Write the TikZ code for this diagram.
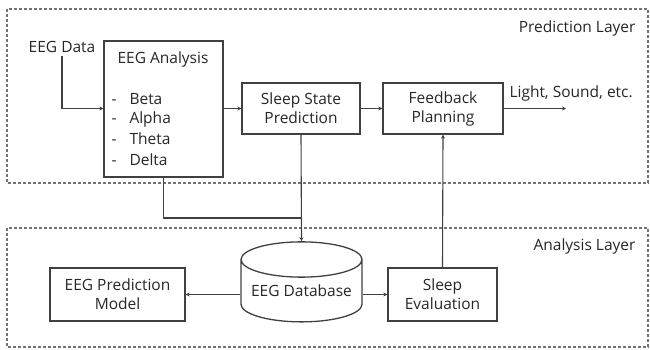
\documentclass[tikz,border=0pt]{standalone}
\usepackage{fontspec}
\setmainfont{Open Sans}
\usetikzlibrary{arrows.meta,shapes.geometric}
\begin{document}
\begin{tikzpicture}[x=1pt,y=-1pt,
  every node/.style={font=\fontsize{15.5}{19}\selectfont, text=black!85},
  layer/.style={draw=black!55, line width=1.4pt, dash pattern=on 3pt off 2pt},
  blk/.style={draw=black!75, line width=1.3pt, rectangle, align=center, inner sep=0pt},
  conn/.style={draw=black!75, line width=1.1pt, -{Stealth[length=4pt,width=4pt]}},
  plain/.style={draw=black!75, line width=1.1pt}]
\useasboundingbox (0,0) rectangle (650,349);
% layers
\draw[layer] (7,9) rectangle (648,183);
\draw[layer] (7,228) rectangle (648,347);
\node[anchor=east] (pl) at (639,28) {Prediction Layer};
\node[anchor=east] (al) at (639,246) {Analysis Layer};
% boxes
\node[blk, minimum width=119pt, minimum height=136pt] (ana) at (163.5,109) {};
\node (anat) at (163,59) {EEG Analysis};
\node[anchor=west] (b1) at (108,99) {-\hspace{13pt}Beta};
\node[anchor=west] (b2) at (108,119) {-\hspace{13pt}Alpha};
\node[anchor=west] (b3) at (108,139) {-\hspace{13pt}Theta};
\node[anchor=west] (b4) at (108,160) {-\hspace{13pt}Delta};
\node[blk, minimum width=118pt, minimum height=51pt] (ssp) at (301,108.5) {Sleep State\\Prediction};
\node[blk, minimum width=120pt, minimum height=51pt] (fbp) at (443,108.5) {Feedback\\Planning};
\node[blk, minimum width=135pt, minimum height=53pt] (epm) at (117.5,294.5) {EEG Prediction\\Model};
\node[blk, minimum width=109pt, minimum height=53pt] (sev) at (442.5,294.5) {Sleep\\Evaluation};
\node[draw=black!75, line width=1.3pt, cylinder, shape border rotate=90, aspect=0.35,
  minimum width=121pt, minimum height=80pt, inner sep=0pt] (db) at (301.5,291) {EEG Database};
\node[anchor=south] (eegd) at (62,56) {EEG Data};
\node[anchor=west] (lse) at (506,93) {Light, Sound, etc.};
\coordinate (out) at (566,108.5);
\coordinate (c1) at (62,108.5);
\coordinate (c2) at (163.5,218);
% connectors
\draw[conn] (eegd.south) |- (ana.west |- c1);
\draw[conn] (ana.east |- ssp.west) -- (ssp.west);
\draw[conn] (ssp) -- (fbp);
\draw[conn] (fbp.east) -- (out);
\draw[plain] (ana.south) |- (ssp.south |- c2);
\draw[conn] (ssp.south) -- (db.north);
\draw[conn] (db.west |- epm.east) -- (epm.east);
\draw[conn] (db.east |- sev.west) -- (sev.west);
\draw[conn] (sev.north) -- (fbp.south);
\end{tikzpicture}
\end{document}
